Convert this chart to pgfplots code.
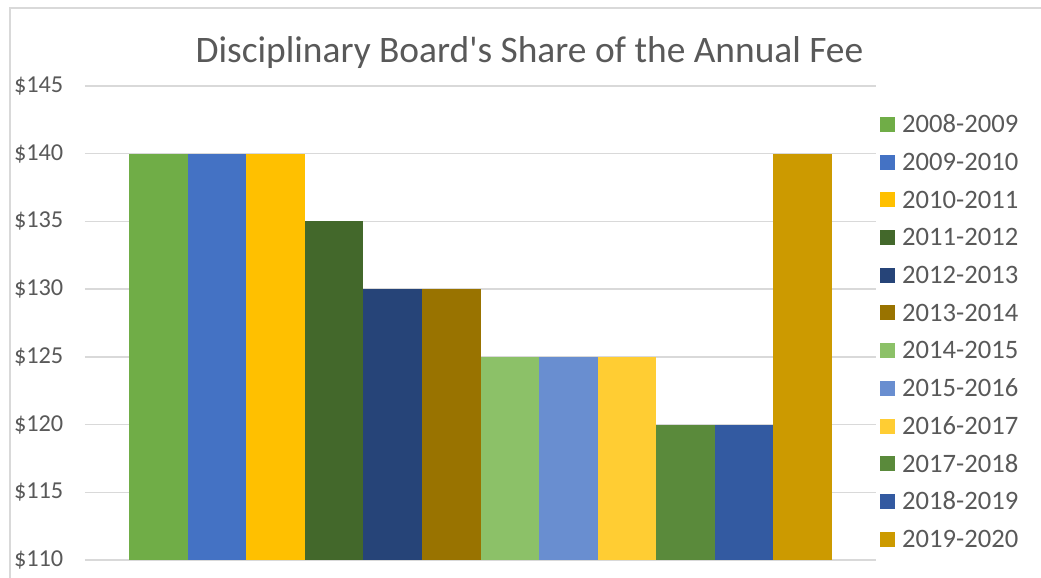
\documentclass[border=0pt]{standalone}
\usepackage{fontspec}
\setmainfont{Carlito}
\newfontfamily\plainfont{Carlito}
\usepackage{pgfplots}
\pgfplotsset{compat=1.18}
\definecolor{txt}{HTML}{595959}
\definecolor{grd}{HTML}{D9D9D9}
\definecolor{c1}{HTML}{70AD47}
\definecolor{c2}{HTML}{4472C4}
\definecolor{c3}{HTML}{FFC000}
\definecolor{c4}{HTML}{43682B}
\definecolor{c5}{HTML}{264478}
\definecolor{c6}{HTML}{997300}
\definecolor{c7}{HTML}{8CC168}
\definecolor{c8}{HTML}{698ED0}
\definecolor{c9}{HTML}{FFCD33}
\definecolor{c10}{HTML}{5A8A3B}
\definecolor{c11}{HTML}{335AA1}
\definecolor{c12}{HTML}{CC9A00}
\begin{document}
\begin{tikzpicture}[x=1pt,y=1pt]
\path[use as bounding box, fill=white] (0,0) rectangle (1041,578);
\draw[grd, line width=2pt] (10,0) -- (10,570) -- (1041,570);
\node[txt, font=\plainfont\fontsize{37.4}{40}\selectfont] at (529.5,525) {Disciplinary Board's Share of the Annual Fee};
\begin{axis}[
  at={(85pt,18pt)}, anchor=south west,
  scale only axis, width=791pt, height=474pt,
  ybar=0pt, bar width=58.58pt,
  xmin=-0.5, xmax=0.5, enlargelimits=false,
  ymin=110, ymax=145, ytick={110,115,...,145},
  xtick=\empty,
  ymajorgrids, grid style={grd, line width=1.3pt},
  axis line style={draw=none}, major tick length=0pt,
  /pgf/number format/assume math mode=true,
  yticklabel={\$\pgfmathprintnumber{\tick}},
  yticklabel style={font=\fontsize{24.3}{26}\selectfont, text=txt, inner sep=0pt, xshift=-21.5pt},
  legend image code/.code={\fill[#1] (0pt,-6.2pt) rectangle (15pt,8.8pt); \path (22pt,0pt);},
  legend cell align=left,
  legend style={draw=none, fill=none, at={(1.00506,0.944)}, anchor=north west, inner sep=0pt,
    font=\fontsize{26.6}{28}\selectfont, text=txt, row sep=11.7pt,
    nodes={inner sep=0pt, text height=20pt, text depth=6pt}},
]
\addplot[fill=c1, draw=none] coordinates {(0,140)};
\addplot[fill=c2, draw=none] coordinates {(0,140)};
\addplot[fill=c3, draw=none] coordinates {(0,140)};
\addplot[fill=c4, draw=none] coordinates {(0,135)};
\addplot[fill=c5, draw=none] coordinates {(0,130)};
\addplot[fill=c6, draw=none] coordinates {(0,130)};
\addplot[fill=c7, draw=none] coordinates {(0,125)};
\addplot[fill=c8, draw=none] coordinates {(0,125)};
\addplot[fill=c9, draw=none] coordinates {(0,125)};
\addplot[fill=c10, draw=none] coordinates {(0,120)};
\addplot[fill=c11, draw=none] coordinates {(0,120)};
\addplot[fill=c12, draw=none] coordinates {(0,140)};
\legend{2008-2009,2009-2010,2010-2011,2011-2012,2012-2013,2013-2014,2014-2015,2015-2016,2016-2017,2017-2018,2018-2019,2019-2020}
\end{axis}
\end{tikzpicture}
\end{document}
